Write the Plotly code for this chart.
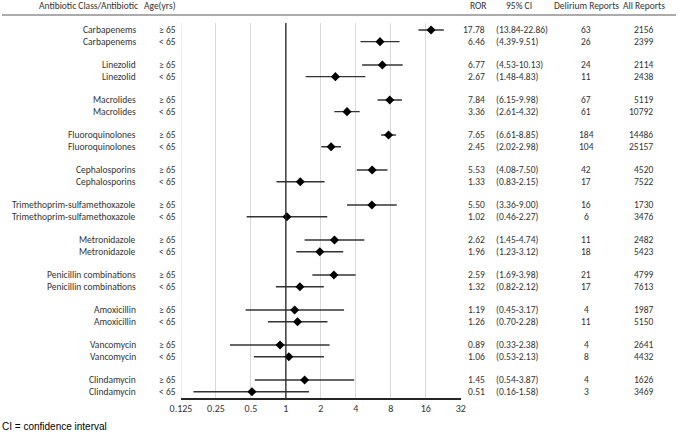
import plotly.graph_objects as go
import math

classes = ["Carbapenems", "Linezolid", "Macrolides", "Fluoroquinolones", "Cephalosporins",
           "Trimethoprim-sulfamethoxazole", "Metronidazole", "Penicillin combinations",
           "Amoxicillin", "Vancomycin", "Clindamycin"]
age_groups = ["≥ 65", "< 65"]

ror = [17.78, 6.46, 6.77, 2.67, 7.84, 3.36, 7.65, 2.45, 5.53, 1.33, 5.50, 1.02,
       2.62, 1.96, 2.59, 1.32, 1.19, 1.26, 0.89, 1.06, 1.45, 0.51]
ci_low = [13.84, 4.39, 4.53, 1.48, 6.15, 2.61, 6.61, 2.02, 4.08, 0.83, 3.36, 0.46,
          1.45, 1.23, 1.69, 0.82, 0.45, 0.70, 0.33, 0.53, 0.54, 0.16]
ci_high = [22.86, 9.51, 10.13, 4.83, 9.98, 4.32, 8.85, 2.98, 7.50, 2.15, 9.00, 2.27,
           4.74, 3.12, 3.98, 2.12, 3.17, 2.28, 2.38, 2.13, 3.87, 1.58]
delirium = [63, 26, 24, 11, 67, 61, 184, 104, 42, 17, 16, 6, 11, 18, 21, 17, 4, 11, 4, 8, 4, 3]
all_reports = [2156, 2399, 2114, 2438, 5119, 10792, 14486, 25157, 4520, 7522, 1730, 3476,
               2482, 5423, 4799, 7613, 1987, 5150, 2641, 4432, 1626, 3469]

tick_vals = [0.125, 0.25, 0.5, 1, 2, 4, 8, 16, 32]
tick_text = ["0.125", "0.25", "0.5", "1", "2", "4", "8", "16", "32"]
headers = ["Antibiotic Class/Antibiotic", "Age(yrs)", "ROR", "95% CI", "Delirium Reports", "All Reports"]
footnote = "CI = confidence interval"

W, H = 680, 438
FONT = "Carlito, Lato"
FS = 9.5
TXT = "#333333"

# row positions: two rows per class, blank row between classes
ypos = []
labels_class = []
labels_age = []
for g, c in enumerate(classes):
    for r, a in enumerate(age_groups):
        ypos.append(3 * g + r)
        labels_class.append(c)
        labels_age.append(a)

fig = go.Figure()
fig.add_trace(go.Scatter(
    x=ror, y=ypos, mode="markers",
    marker=dict(symbol="diamond", size=7, color="black"),
    error_x=dict(type="data", symmetric=False,
                 array=[h - v for h, v in zip(ci_high, ror)],
                 arrayminus=[v - l for v, l in zip(ror, ci_low)],
                 width=0, thickness=1.4, color="#333333"),
    showlegend=False, hoverinfo="skip",
))

x0, x1 = 181 / W, 460.7 / W
ytop, ybot = 23, 398
fig.update_layout(
    width=W, height=H, margin=dict(l=0, r=0, t=0, b=0),
    paper_bgcolor="white", plot_bgcolor="white",
    font=dict(family=FONT, size=FS, color=TXT),
    xaxis=dict(type="log", range=[math.log10(0.125), math.log10(32)],
               domain=[x0, x1], tickvals=tick_vals, ticktext=tick_text,
               showgrid=True, gridcolor="#d9d9d9", gridwidth=1,
               showline=True, linecolor="#262626", linewidth=1.5,
               ticks="", zeroline=False, automargin=False,
               tickfont=dict(family=FONT, size=FS + 0.5, color=TXT),
               fixedrange=True),
    yaxis=dict(range=[31.54, -0.6], domain=[1 - ybot / H, 1 - ytop / H],
               visible=False, showgrid=False, zeroline=False, fixedrange=True),
)

shapes = []
shapes.append(dict(type="line", xref="x", yref="paper", x0=1, x1=1,
                   y0=1 - ybot / H, y1=1 - ytop / H, line=dict(color="#262626", width=1.3)))
shapes.append(dict(type="line", xref="x", yref="paper", x0=0.125, x1=0.125,
                   y0=1 - ybot / H, y1=1 - ytop / H, line=dict(color="#d9d9d9", width=1), layer="below"))
shapes.append(dict(type="line", xref="paper", yref="paper", x0=2 / W, x1=676 / W,
                   y0=1 - 15 / H, y1=1 - 15 / H, line=dict(color="#595959", width=1)))
fig.update_layout(shapes=shapes)

ann = []
def add(text, xpx, y, anchor, yref="y", size=FS, family=FONT, color=TXT):
    ann.append(dict(text=text, x=xpx / W, xref="paper", y=y, yref=yref,
                    xanchor=anchor, yanchor="middle", showarrow=False,
                    font=dict(family=family, size=size, color=color)))

for i, yv in enumerate(ypos):
    add(labels_class[i], 138, yv, "right")
    add(labels_age[i], 157, yv, "left")
    add(f"{ror[i]:.2f}", 487, yv, "right")
    add(f"({ci_low[i]:.2f}-{ci_high[i]:.2f})", 494, yv, "left")
    add(str(delirium[i]), 586, yv, "center")
    add(str(all_reports[i]), 655, yv, "right")

hy = 1 - 6 / H
add(headers[0], 88.5, hy, "center", yref="paper")
add(headers[1], 159.5, hy, "center", yref="paper")
add(headers[2], 478.5, hy, "center", yref="paper")
add(headers[3], 519, hy, "center", yref="paper")
add(headers[4], 586.5, hy, "center", yref="paper")
add(headers[5], 644, hy, "center", yref="paper")

add(footnote, 0, 1 - 426 / H, "left", yref="paper", size=10, family="Liberation Sans", color="black")

fig.update_layout(annotations=ann)
fig.write_html("out.html", config={"displayModeBar": False},
               post_script="document.body.style.margin='0';")
